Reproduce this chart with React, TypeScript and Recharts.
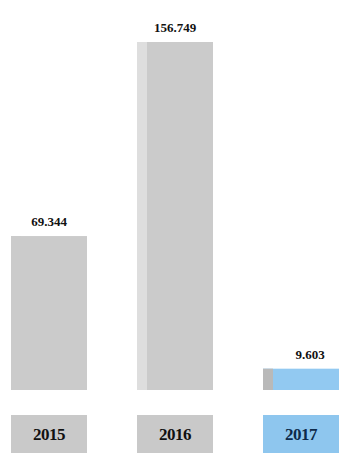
import React from "react";
import { BarChart, Bar, XAxis, YAxis, Cell, LabelList } from "recharts";

const years = ["2015", "2016", "2017"];
const values = [69344, 156749, 9603];

const data = years.map((y, i) => ({ year: y, value: values[i] }));

const fills = ["#cbcbcb", "#cbcbcb", "#92c9f1"];
const stripes = ["#cbcbcb", "#dedede", "#b9b9b9"];
const boxFills = ["#c9c9c9", "#c9c9c9", "#8ec6ee"];
const boxText = ["#111111", "#111111", "#0d2a4a"];

const fmt = (v: number) => v.toLocaleString("de-DE");

const BarShape = (props: any) => {
  const { x, y, width, height, index } = props;
  return (
    <g>
      <rect x={x} y={y} width={width} height={height} fill={fills[index]} />
      <rect x={x} y={y} width={10} height={height} fill={stripes[index]} />
    </g>
  );
};

const Tick = (props: any) => {
  const { x, y, payload, index } = props;
  const w = 76;
  return (
    <g>
      <rect x={x - w / 2} y={y + 17} width={w} height={38} fill={boxFills[index]} />
      <text
        x={x}
        y={y + 42}
        textAnchor="middle"
        fontFamily="Liberation Serif"
        fontWeight="bold"
        fontSize={17}
        letterSpacing={-0.5}
        fill={boxText[index]}
      >
        {payload.value}
      </text>
    </g>
  );
};

const ValueLabel = (props: any) => {
  const { x, y, width, value, index } = props;
  const dx = index === 2 ? 9 : 0;
  return (
    <text
      x={x + width / 2 + dx}
      y={y - 10}
      textAnchor="middle"
      fontFamily="Liberation Serif"
      fontWeight="bold"
      fontSize={13}
      fill="#111111"
    >
      {fmt(value)}
    </text>
  );
};

export default function App() {
  return (
    <div
      style={{
        position: "absolute",
        left: 0,
        top: 0,
        width: 343,
        height: 461,
        overflow: "hidden",
        background: "#ffffff",
      }}
    >
      <div style={{ position: "absolute", left: -14, top: 0 }}>
        <BarChart
          width={378}
          height={461}
          data={data}
          margin={{ top: 42, right: 0, bottom: 0, left: 0 }}
          barSize={76}
        >
          <YAxis hide domain={[0, 156749]} />
          <XAxis
            dataKey="year"
            axisLine={false}
            tickLine={false}
            height={71}
            tick={<Tick />}
            interval={0}
          />
          <Bar dataKey="value" isAnimationActive={false} shape={<BarShape />}>
            {data.map((d, i) => (
              <Cell key={d.year} fill={fills[i]} />
            ))}
            <LabelList dataKey="value" content={<ValueLabel />} />
          </Bar>
        </BarChart>
      </div>
    </div>
  );
}
